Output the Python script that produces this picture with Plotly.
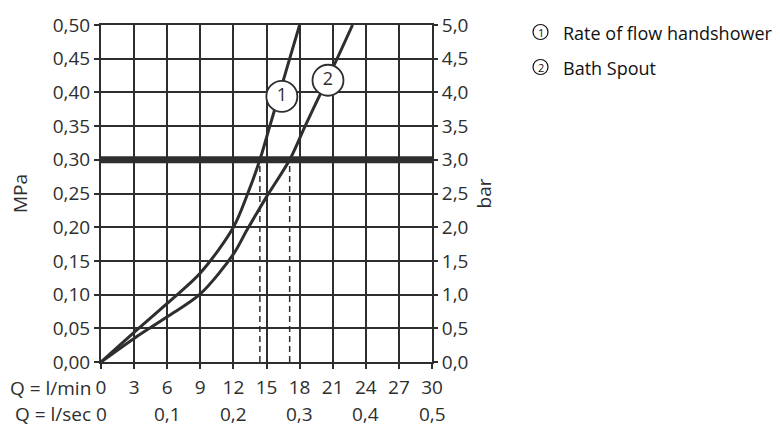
import numpy as np
import plotly.graph_objects as go

# ---- data ----
q_lmin_ticks = [0, 3, 6, 9, 12, 15, 18, 21, 24, 27, 30]
q_lsec_pos = [0, 6, 12, 18, 24, 30]
q_lsec_labels = ["0", "0,1", "0,2", "0,3", "0,4", "0,5"]
mpa_ticks = [0.0, 0.05, 0.10, 0.15, 0.20, 0.25, 0.30, 0.35, 0.40, 0.45, 0.50]
bar_ticks = [0.0, 0.5, 1.0, 1.5, 2.0, 2.5, 3.0, 3.5, 4.0, 4.5, 5.0]

hand_q = [0, 3, 6, 9, 12, 13.3, 14.4, 15.3, 16.2, 17.1, 18.0]
hand_p = [0, 0.044, 0.087, 0.132, 0.200, 0.25, 0.30, 0.35, 0.40, 0.45, 0.50]

spout_q = [0, 3, 6, 9, 12, 13.2, 15.0, 17.1, 18.5, 19.95, 21.4, 22.8]
spout_p = [0, 0.035, 0.067, 0.101, 0.160, 0.195, 0.245, 0.30, 0.35, 0.40, 0.45, 0.50]

ref_pressure = 0.30
label_p = [0.394, 0.418]
label_dq = [0.3, 0.1]
legend_marks = ["1", "2"]
legend_texts = ["Rate of flow handshower", "Bath Spout"]

DARK = "#2e2e2e"
FONT = "Open Sans"
FS = 19

fig = go.Figure()

# dashed guides at crossing with reference pressure
for qs, ps in [(hand_q, hand_p), (spout_q, spout_p)]:
    qx = float(np.interp(ref_pressure, ps, qs))
    fig.add_trace(go.Scatter(x=[qx, qx], y=[0, ref_pressure], mode="lines",
                             line=dict(color=DARK, width=1.5, dash="6px,4px"),
                             hoverinfo="skip", showlegend=False))

# thick reference line
fig.add_trace(go.Scatter(x=[0, 30], y=[ref_pressure, ref_pressure], mode="lines",
                         line=dict(color=DARK, width=7), showlegend=False))

# curves
for qs, ps in [(hand_q, hand_p), (spout_q, spout_p)]:
    fig.add_trace(go.Scatter(x=qs, y=ps, mode="lines",
                             line=dict(color=DARK, width=3, shape="spline", smoothing=0.9),
                             showlegend=False))

# circled labels on curves
lab_x = [float(np.interp(label_p[0], hand_p, hand_q)) + label_dq[0],
         float(np.interp(label_p[1], spout_p, spout_q)) + label_dq[1]]
fig.add_trace(go.Scatter(x=lab_x, y=label_p, mode="markers+text",
                         text=["1", "2"], textposition="middle center",
                         textfont=dict(family=FONT, size=18, color=DARK),
                         marker=dict(size=31, color="white",
                                     line=dict(color=DARK, width=1.8)),
                         showlegend=False))

# secondary axis trace (bar)
fig.add_trace(go.Scatter(x=[0], y=[0], yaxis="y2", mode="markers",
                         marker=dict(opacity=0), showlegend=False, hoverinfo="skip"))

fig.update_layout(
    width=780, height=442,
    margin=dict(l=101, r=348, t=25, b=80),
    paper_bgcolor="white", plot_bgcolor="white",
    separators=", ",
    font=dict(family=FONT, size=FS, color=DARK),
    xaxis=dict(range=[0, 30], tickvals=q_lmin_ticks,
               ticktext=[str(v) for v in q_lmin_ticks],
               showgrid=True, gridcolor=DARK, gridwidth=2,
               showline=True, linecolor=DARK, linewidth=2, mirror=True,
               ticks="outside", ticklen=5, tickwidth=2, tickcolor=DARK,
               ticklabelstandoff=2, zeroline=False,
               tickfont=dict(family=FONT, size=FS, color=DARK)),
    yaxis=dict(range=[0, 0.5], tickvals=mpa_ticks, tickformat=".2f",
               showgrid=True, gridcolor=DARK, gridwidth=2,
               showline=True, linecolor=DARK, linewidth=2, mirror=True,
               ticks="outside", ticklen=5, tickwidth=2, tickcolor=DARK,
               zeroline=False,
               title=dict(text="MPa", standoff=20,
                          font=dict(family=FONT, size=FS, color=DARK)),
               tickfont=dict(family=FONT, size=FS, color=DARK)),
    yaxis2=dict(range=[0, 5], tickvals=bar_ticks, tickformat=".1f",
                overlaying="y", side="right", showgrid=False, zeroline=False,
                ticks="outside", ticklen=5, tickwidth=2, tickcolor=DARK,
                title=dict(text="bar", standoff=10,
                           font=dict(family=FONT, size=FS, color=DARK)),
                tickfont=dict(family=FONT, size=FS, color=DARK)),
)

# bottom labels
fig.add_annotation(text="Q = l/min", xref="paper", yref="paper", x=0, y=0,
                   xanchor="right", yanchor="middle", xshift=-8, yshift=-26,
                   showarrow=False, font=dict(family=FONT, size=FS, color=DARK))
fig.add_annotation(text="Q = l/sec", xref="paper", yref="paper", x=0, y=0,
                   xanchor="right", yanchor="middle", xshift=-8, yshift=-52,
                   showarrow=False, font=dict(family=FONT, size=FS, color=DARK))
for pos, lab in zip(q_lsec_pos, q_lsec_labels):
    fig.add_annotation(text=lab, xref="x", yref="paper", x=pos, y=0,
                       xanchor="center", yanchor="middle", yshift=-52,
                       showarrow=False, font=dict(family=FONT, size=FS, color=DARK))

# legend: circled numbers + text
for i, (mark, txt) in enumerate(zip(legend_marks, legend_texts)):
    cy = -7 - 35 * i
    fig.add_shape(type="circle", xref="paper", yref="paper",
                  xsizemode="pixel", ysizemode="pixel", xanchor=0, yanchor=1,
                  x0=432, x1=447, y0=cy - 7.5, y1=cy + 7.5,
                  line=dict(color="#111", width=1.2), fillcolor="white")
    fig.add_annotation(text=mark, xref="paper", yref="paper", x=0, y=1,
                       xanchor="center", yanchor="middle",
                       xshift=439.5, yshift=cy,
                       showarrow=False, font=dict(family=FONT, size=11, color="#111"))
    fig.add_annotation(text=txt, xref="paper", yref="paper", x=0, y=1,
                       xanchor="left", yanchor="middle",
                       xshift=460, yshift=-8 - 35 * i,
                       showarrow=False, font=dict(family=FONT, size=18, color="#111"))

fig.write_html("out.html")
